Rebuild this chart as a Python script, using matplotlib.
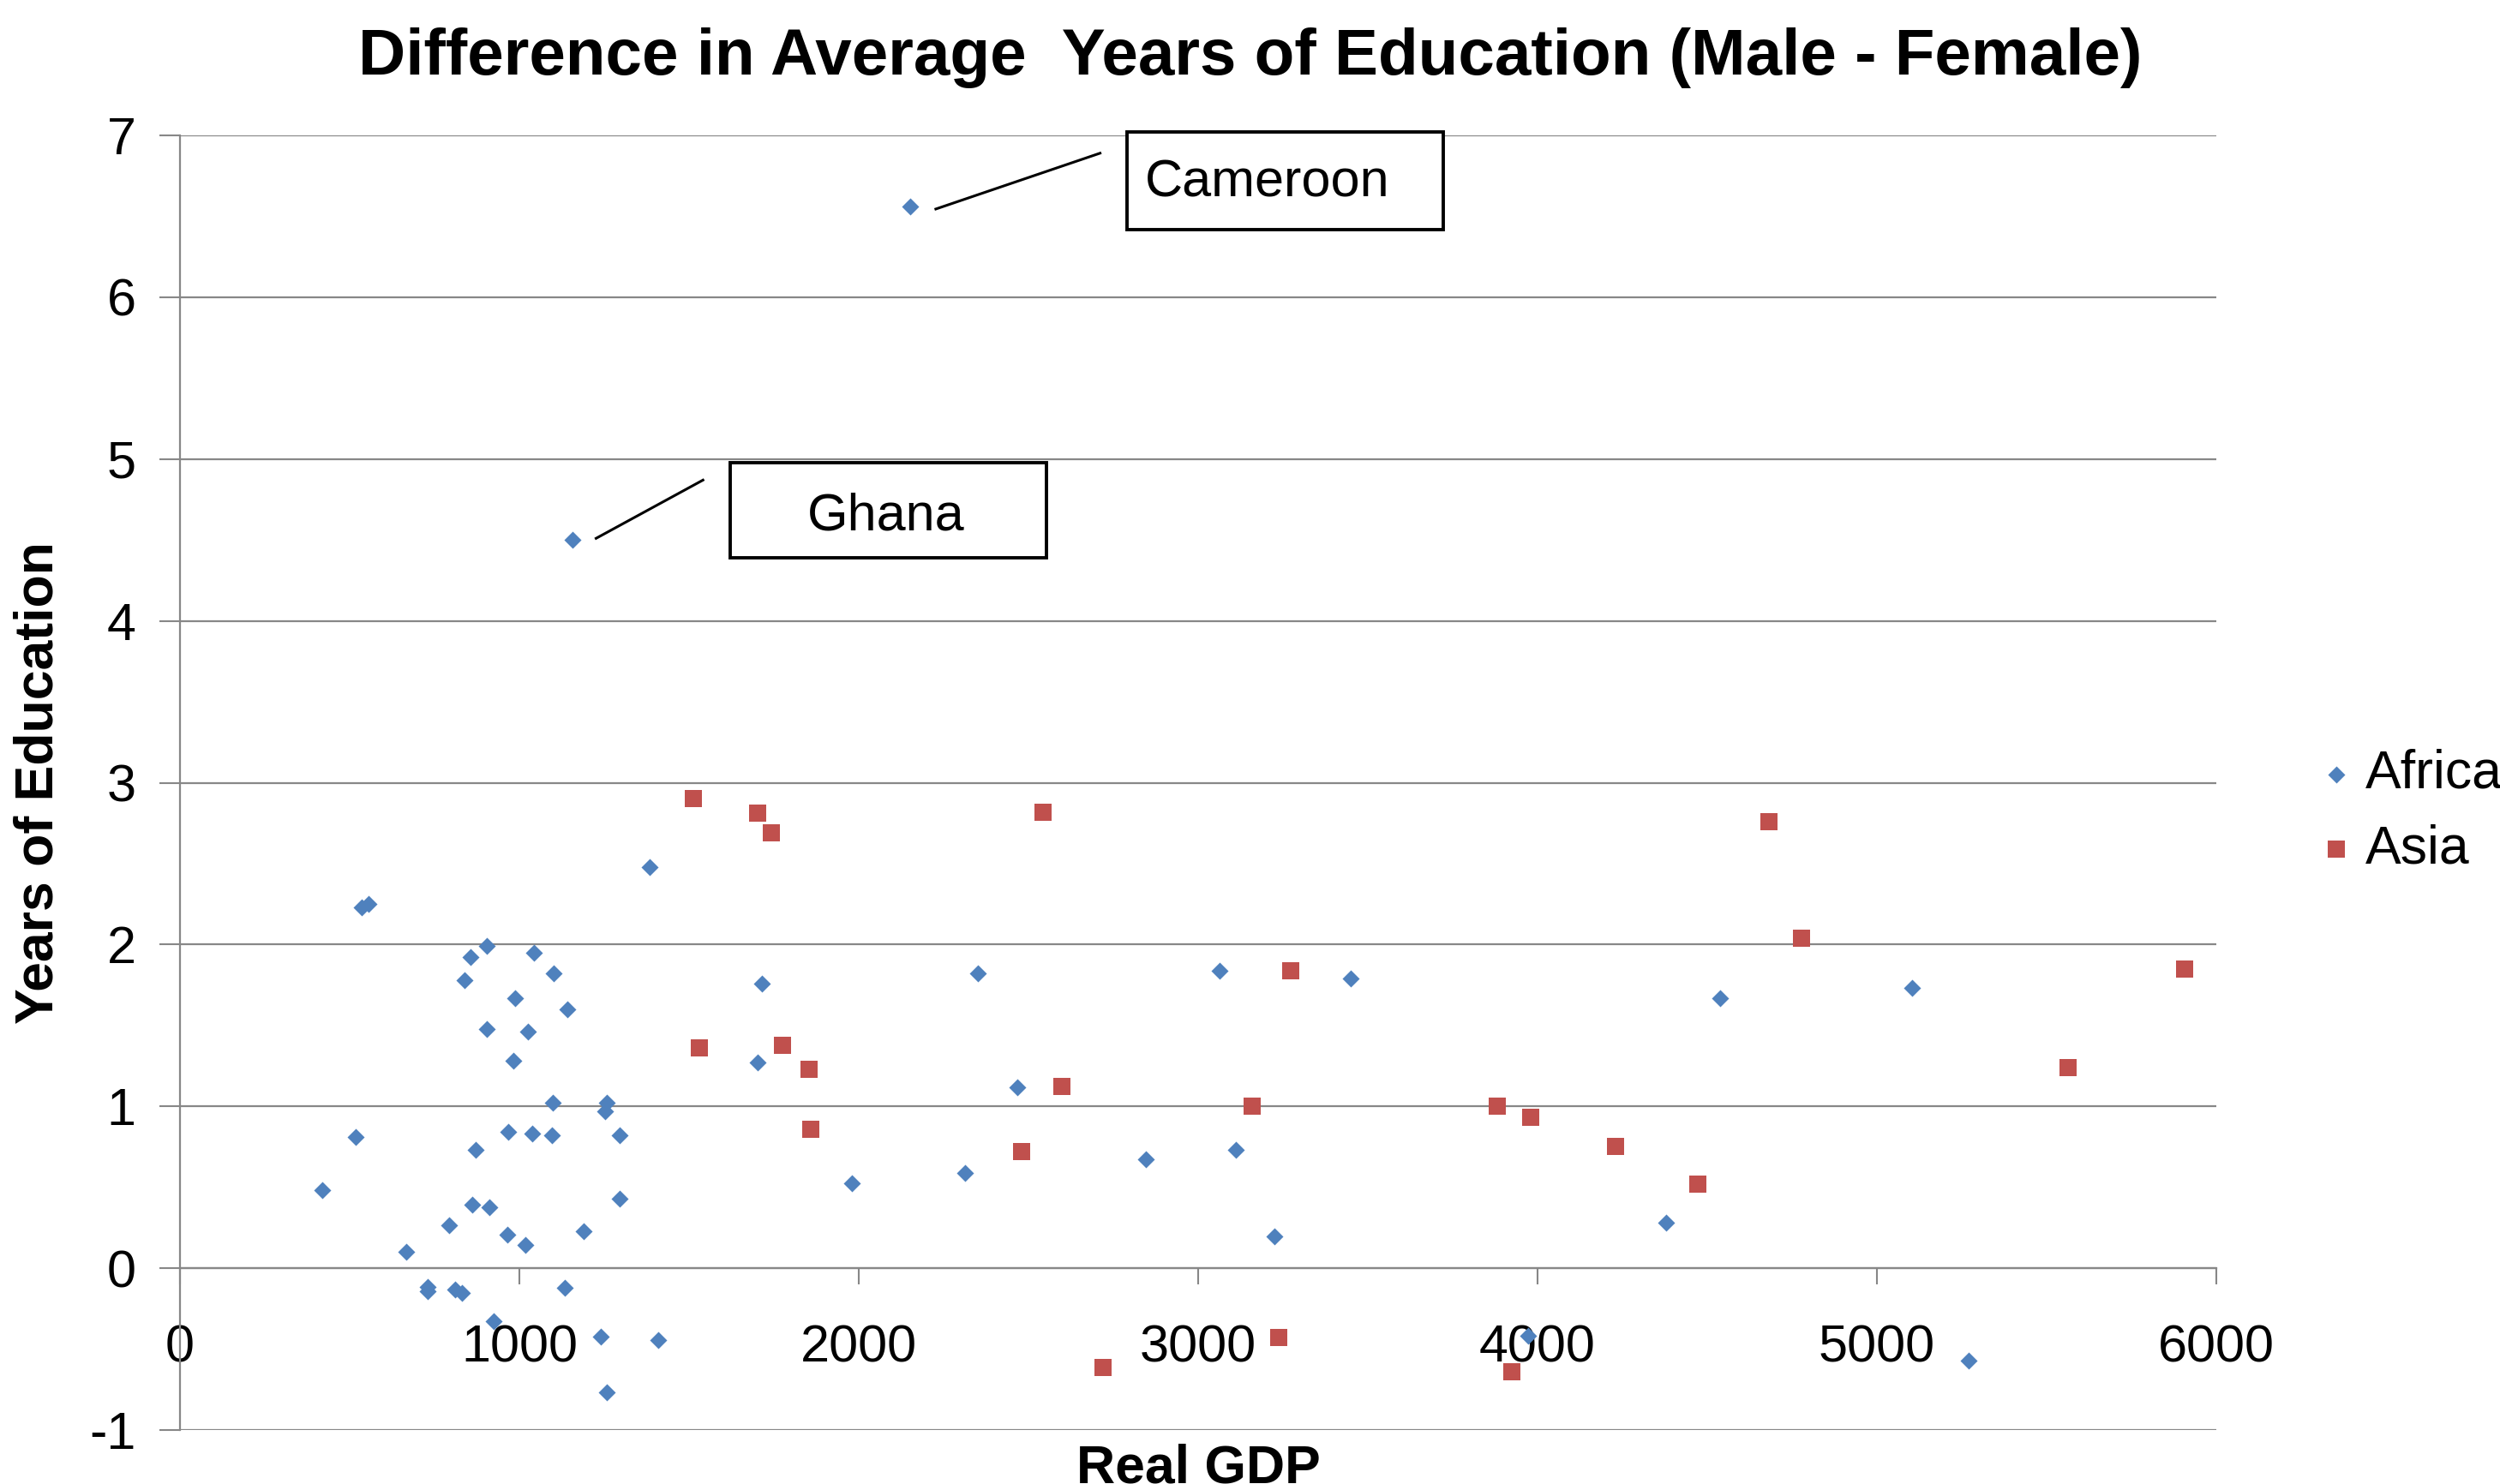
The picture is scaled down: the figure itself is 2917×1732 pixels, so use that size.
import matplotlib
matplotlib.use("Agg")
import matplotlib.pyplot as plt
from matplotlib.patches import Rectangle

plt.rcParams['font.family'] = ['Liberation Sans', 'DejaVu Sans']
plt.rcParams['axes.unicode_minus'] = False

# Data: Real GDP vs difference in years of education
africa_gdp = [419, 517, 536, 556, 666, 731, 731, 792, 810, 832,
              839, 856, 860, 870, 904, 904, 911, 925, 965, 968,
              982, 988, 1017, 1026, 1037, 1043, 1097, 1098, 1100, 1134,
              1142, 1156, 1189, 1240, 1253, 1258, 1258, 1295, 1296, 1385,
              1409, 1703, 1715, 1981, 2152, 2312, 2351, 2468, 2845, 3063,
              3111, 3225, 3449, 3972, 4379, 4538, 5103, 5271]
africa_edu = [0.48, 0.81, 2.23, 2.25, 0.10, -0.115, -0.14, 0.265, -0.134, -0.153,
              1.78, 1.92, 0.393, 0.73, 1.99, 1.48, 0.379, -0.326, 0.206, 0.84,
              1.28, 1.67, 0.146, 1.46, 0.83, 1.95, 0.82, 1.02, 1.82, -0.123,
              1.60, 4.50, 0.226, -0.423, 0.97, 1.02, -0.767, 0.82, 0.432, 2.48,
              -0.446, 1.27, 1.76, 0.526, 6.56, 0.589, 1.82, 1.12, 0.672, 1.84,
              0.73, 0.194, 1.79, -0.42, 0.28, 1.67, 1.73, -0.57]

asia_gdp = [1512, 1530, 1701, 1742, 1776, 1854, 1859, 2479, 2543, 2599,
            2720, 3160, 3237, 3272, 3881, 3924, 3981, 4230, 4473, 4682,
            4779, 5564, 5907]
asia_edu = [2.90, 1.36, 2.81, 2.69, 1.376, 1.23, 0.857, 0.72, 2.82, 1.125,
            -0.616, 1.0, -0.43, 1.84, 1.0, -0.64, 0.93, 0.75, 0.52, 2.76,
            2.04, 1.24, 1.85]

x_ticks = [0, 1000, 2000, 3000, 4000, 5000, 6000]
y_ticks = [-1, 0, 1, 2, 3, 4, 5, 6, 7]

# callouts: label, box (x0, x1, y0, y1), text start (x, baseline y), leader line
callouts = [
    ("Cameroon", (2791, 3722, 6.42, 7.02), (2843, 6.62), ((2227, 2711), (6.545, 6.89))),
    ("Ghana", (1621, 2552, 4.39, 4.98), (1847, 4.56), ((1226, 1541), (4.51, 4.87))),
]

grid_col = '#878787'

fig = plt.figure(figsize=(29.17, 17.32), dpi=100)
ax = fig.add_axes([0.07199, 0.03637, 0.81454, 0.87240])

ax.scatter(africa_gdp, africa_edu, marker='D', s=104, color='#4F81BD',
           linewidths=0, label='Africa', zorder=3, clip_on=False)
ax.scatter(asia_gdp, asia_edu, marker='s', s=207, color='#C0504D',
           linewidths=0, label='Asia', zorder=4, clip_on=False)

ax.set_xlim(0, 6000)
ax.set_ylim(-1, 7)
ax.set_xticks(x_ticks)
ax.set_yticks(y_ticks)
ax.yaxis.grid(True, color=grid_col, linewidth=1.6)
ax.set_axisbelow(True)

for s in ['top', 'right']:
    ax.spines[s].set_visible(False)
ax.spines['bottom'].set_position(('data', 0))
ax.spines['bottom'].set_color(grid_col)
ax.spines['bottom'].set_linewidth(1.6)
ax.spines['left'].set_color(grid_col)
ax.spines['left'].set_linewidth(1.6)

ax.tick_params(axis='x', direction='out', length=14, width=1.5, color=grid_col,
               labelsize=44, pad=33)
ax.tick_params(axis='y', direction='out', length=17, width=1.5, color=grid_col,
               labelsize=44, pad=20)

# annotation boxes
for name, (bx0, bx1, by0, by1), (tx, ty), (lx, ly) in callouts:
    ax.plot(lx, ly, color='black', linewidth=2.2, zorder=5, clip_on=False)
    ax.add_patch(Rectangle((bx0, by0), bx1 - bx0, by1 - by0, facecolor='white',
                           edgecolor='black', linewidth=2.8, zorder=6, clip_on=False))
    ax.text(tx, ty, name, fontsize=44, ha='left', va='baseline', zorder=7)

fig.text(0.5, 0.9498, "Difference in Average  Years of Education (Male - Female)",
         fontsize=55, fontweight='bold', ha='center', va='baseline')
fig.text(0.0154, 0.4723, "Years of Education", fontsize=45, fontweight='bold',
         rotation=90, ha='center', va='center')
fig.text(0.4793, 0.0275, "Real GDP", fontsize=45, fontweight='bold',
         ha='center', va='top')

fig.legend(loc='upper left', bbox_to_anchor=(0.9304, 0.4954), frameon=False,
           fontsize=45, handlelength=0.4, handletextpad=0.34, borderpad=0,
           borderaxespad=0, labelspacing=0.46, scatterpoints=1)

fig.savefig("out.png", dpi=100)
